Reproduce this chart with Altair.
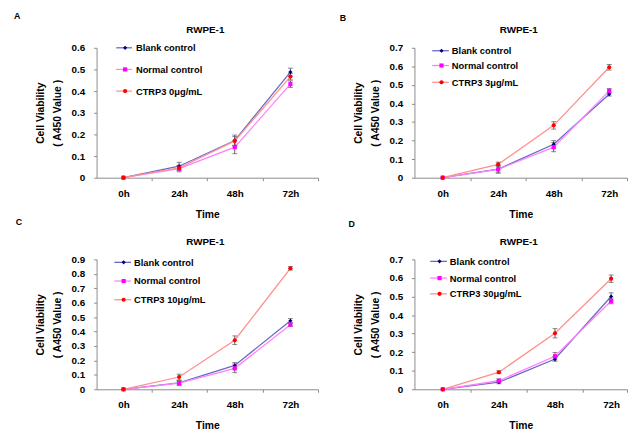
import altair as alt
import pandas as pd

# ---------------- data ----------------
hours = [0, 24, 48, 72]
series_keys = ["blank", "normal", "ctrp"]
blank_label = "Blank control"
normal_label = "Normal control"
ctrp_labels = ["CTRP3 0μg/mL", "CTRP3 3μg/mL", "CTRP3 10μg/mL", "CTRP3 30μg/mL"]
panel_letters = ["A", "B", "C", "D"]
panel_title = "RWPE-1"
y_max = [0.6, 0.7, 0.9, 0.7]

A_blank = [0, 0.053, 0.172, 0.488]
A_blank_err = [0, 0.018, 0.025, 0.018]
A_normal = [0, 0.042, 0.141, 0.432]
A_normal_err = [0, 0.015, 0.030, 0.015]
A_ctrp = [0, 0.045, 0.170, 0.467]
A_ctrp_err = [0, 0.012, 0.020, 0.015]

B_blank = [0, 0.046, 0.180, 0.450]
B_blank_err = [0, 0.020, 0.020, 0.010]
B_normal = [0, 0.045, 0.165, 0.468]
B_normal_err = [0, 0.020, 0.025, 0.012]
B_ctrp = [0, 0.072, 0.282, 0.595]
B_ctrp_err = [0, 0.012, 0.020, 0.015]

C_blank = [0, 0.045, 0.165, 0.475]
C_blank_err = [0, 0.015, 0.020, 0.015]
C_normal = [0, 0.043, 0.145, 0.448]
C_normal_err = [0, 0.015, 0.030, 0.012]
C_ctrp = [0, 0.085, 0.340, 0.838]
C_ctrp_err = [0, 0.020, 0.030, 0.012]

D_blank = [0, 0.038, 0.163, 0.500]
D_blank_err = [0, 0.008, 0.012, 0.020]
D_normal = [0, 0.046, 0.178, 0.476]
D_normal_err = [0, 0.010, 0.020, 0.015]
D_ctrp = [0, 0.092, 0.302, 0.596]
D_ctrp_err = [0, 0.008, 0.025, 0.020]

panels_data = [
    (A_blank, A_blank_err, A_normal, A_normal_err, A_ctrp, A_ctrp_err),
    (B_blank, B_blank_err, B_normal, B_normal_err, B_ctrp, B_ctrp_err),
    (C_blank, C_blank_err, C_normal, C_normal_err, C_ctrp, C_ctrp_err),
    (D_blank, D_blank_err, D_normal, D_normal_err, D_ctrp, D_ctrp_err),
]

# ---------------- style / layout ----------------
FONT = "Liberation Sans"
line_colors = ["#6a6ac4", "#ff80ff", "#ff8f8f"]
marker_colors = ["#000080", "#ff00ff", "#ff0000"]
marker_shapes = ["diamond", "square", "circle"]
err_color = "#5a5a5a"
axis_color = "#8a8a8a"

widths = [225, 216, 225, 216]
height = 132
x_domains = [[-11.6, 83.9], [-12.2, 79.7], [-11.6, 83.9], [-12.1, 78.8]]
# legend layout per panel: (line x0, line x1, text x, row y's)
legend_layout = [
    (20, 36, 40, [0, 22, 44]),
    (18, 35, 38, [3, 18, 35]),
    (18, 35, 38, [3, 22, 41]),
    (16, 33, 36, [2, 19, 35]),
]
letter_pos = [(-84, -29), (-76, -27), (-82, -35), (-67, -33)]
title_y = -15


def make_x(field, i):
    hi = x_domains[i][1]
    return alt.X(
        f"{field}:Q",
        title="Time",
        scale=alt.Scale(domain=x_domains[i], nice=False, zero=False),
        axis=alt.Axis(
            values=[0, 12, 24, 36, 48, 60, 72, hi],
            labelExpr="datum.value % 24 === 0 ? datum.value + 'h' : ''",
            tickOpacity={"condition": {"test": "datum.value % 24 === 0", "value": 0}, "value": 1},
            tickSize=3,
            labelPadding=8,
            labelFlush=False,
            labelOverlap=False,
            labelBound=False,
            grid=False,
            titlePadding=11,
        ),
    )


def make_y(field, i):
    ymax = y_max[i]
    vals = [round(k * 0.1, 1) for k in range(int(round(ymax * 10)) + 1)]
    return alt.Y(
        f"{field}:Q",
        title=["Cell Viability", "( A450 Value )"],
        scale=alt.Scale(domain=[0, ymax], nice=False, zero=True),
        axis=alt.Axis(
            values=vals,
            format=".1~f",
            tickSize=3,
            labelPadding=9,
            grid=False,
            labelFlush=False,
            labelOverlap=False,
            titlePadding=9,
        ),
    )


def panel(i):
    b, be, n, ne, c, ce = panels_data[i]
    rows = []
    for key, vals, errs in zip(series_keys, [b, n, c], [be, ne, ce]):
        for h, v, e in zip(hours, vals, errs):
            rows.append({"hour": h, "value": v, "err": e, "lo": v - e, "hi": v + e, "key": key})
    df = pd.DataFrame(rows)
    base = alt.Chart(df)

    lines = base.mark_line(strokeWidth=1.3).encode(
        x=make_x("hour", i),
        y=make_y("value", i),
        color=alt.Color("key:N", scale=alt.Scale(domain=series_keys, range=line_colors), legend=None),
        detail="key:N",
    )
    errdf = df[df["err"] > 0]
    ebase = alt.Chart(errdf)
    err_rules = ebase.mark_rule(color=err_color, strokeWidth=1).encode(
        x=make_x("hour", i), y=make_y("lo", i), y2="hi:Q"
    )
    cap_lo = ebase.mark_tick(orient="horizontal", size=5, thickness=1, color=err_color).encode(
        x=make_x("hour", i), y=make_y("lo", i)
    )
    cap_hi = ebase.mark_tick(orient="horizontal", size=5, thickness=1, color=err_color).encode(
        x=make_x("hour", i), y=make_y("hi", i)
    )
    pts = base.mark_point(filled=True, size=18, opacity=1).encode(
        x=make_x("hour", i),
        y=make_y("value", i),
        fill=alt.Fill("key:N", scale=alt.Scale(domain=series_keys, range=marker_colors), legend=None),
        shape=alt.Shape("key:N", scale=alt.Scale(domain=series_keys, range=marker_shapes), legend=None),
    )

    layers = [lines, err_rules, cap_lo, cap_hi, pts]

    lx0, lx1, tx, rys = legend_layout[i]
    labels = [blank_label, normal_label, ctrp_labels[i]]
    for j in range(3):
        dummy = alt.Data(values=[{"label": labels[j]}])
        layers.append(
            alt.Chart(dummy).mark_rule(color=line_colors[j], strokeWidth=1.3).encode(
                x=alt.value(lx0), x2=alt.value(lx1), y=alt.value(rys[j])
            )
        )
        layers.append(
            alt.Chart(dummy).mark_point(filled=True, shape=marker_shapes[j], fill=marker_colors[j],
                                        size=18, opacity=1).encode(
                x=alt.value((lx0 + lx1) / 2 + 1), y=alt.value(rys[j])
            )
        )
        layers.append(
            alt.Chart(dummy).mark_text(align="left", baseline="middle", font=FONT, fontWeight="bold",
                                       fontSize=9.5, color="black").encode(
                x=alt.value(tx), y=alt.value(rys[j] + 0.5), text="label:N"
            )
        )
    lxp, lyp = letter_pos[i]
    layers.append(
        alt.Chart(alt.Data(values=[{"t": panel_letters[i]}])).mark_text(
            align="left", baseline="alphabetic", font=FONT, fontWeight="bold", fontSize=9, color="black"
        ).encode(x=alt.value(lxp), y=alt.value(lyp), text="t:N")
    )
    layers.append(
        alt.Chart(alt.Data(values=[{"t": panel_title}])).mark_text(
            align="center", baseline="alphabetic", font=FONT, fontWeight="bold", fontSize=10, color="black"
        ).encode(x=alt.value(widths[i] / 2 - 2), y=alt.value(title_y), text="t:N")
    )

    return alt.layer(*layers).properties(width=widths[i], height=height)


chart = alt.concat(
    panel(0), panel(1), panel(2), panel(3),
    columns=2,
    spacing={"row": 83, "column": 98},
    bounds="flush",
).configure(
    padding={"left": 6, "top": 1, "right": 0, "bottom": 0},
).configure_view(
    stroke=None
).configure_axis(
    domainColor=axis_color,
    tickColor=axis_color,
    labelFont=FONT,
    labelFontWeight="bold",
    labelFontSize=10,
    labelColor="black",
    titleFont=FONT,
    titleFontWeight="bold",
    titleColor="black",
).configure_axisY(
    titleFontSize=10.5,
    titleLineHeight=17,
).configure_axisX(
    titleFontSize=10.5,
)

chart.save("out.html", embed_options={"renderer": "svg", "actions": False})
